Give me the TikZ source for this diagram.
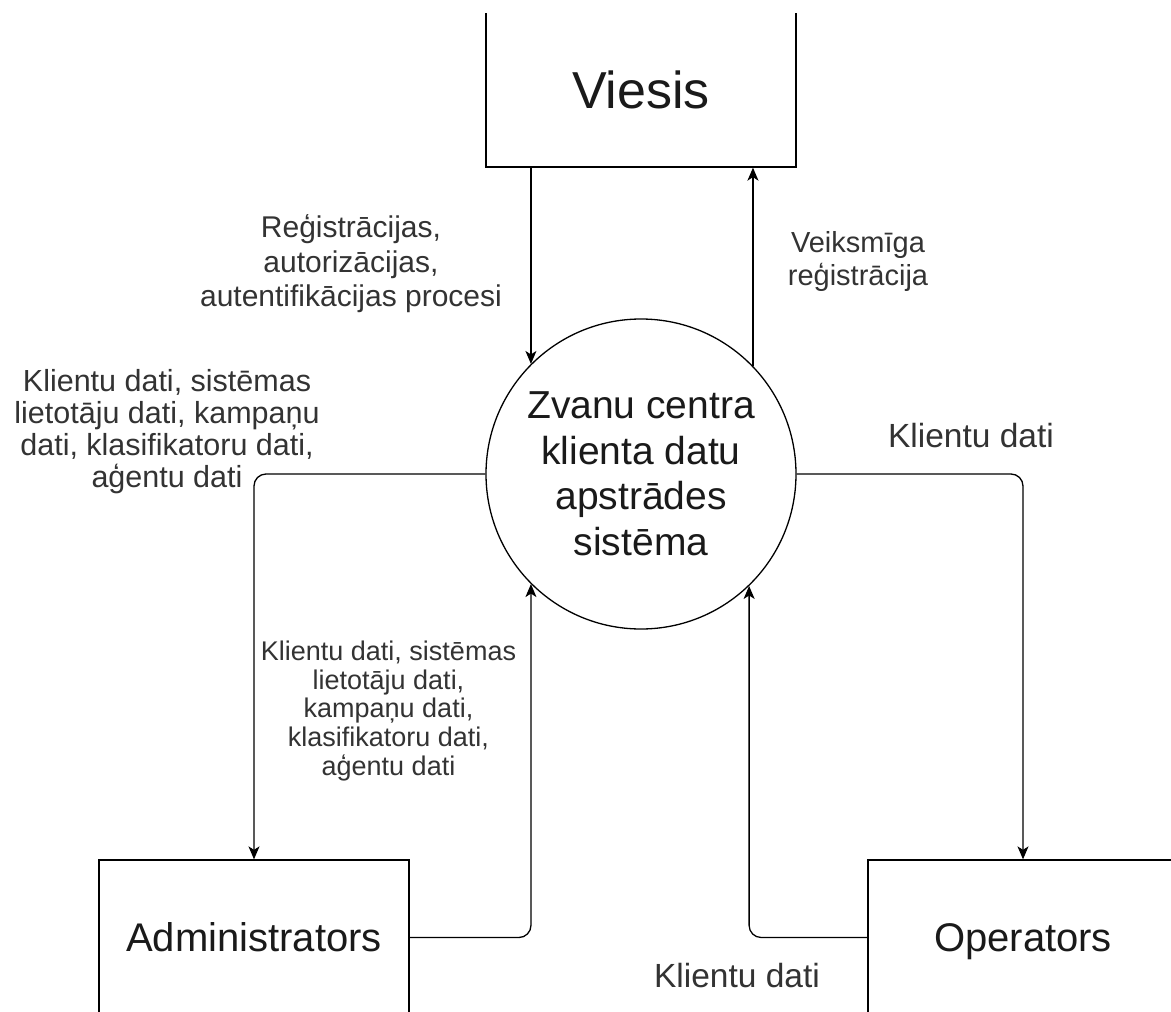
\documentclass[tikz,border=0pt]{standalone}
\usepackage{fontspec}
\setmainfont{Liberation Sans}
\usetikzlibrary{arrows.meta}
\definecolor{nodetext}{RGB}{26,26,26}
\definecolor{labeltext}{RGB}{51,51,51}
\tikzset{
  entity/.style={draw, line width=1.3pt, minimum width=310pt, minimum height=155pt, inner sep=0pt, text=nodetext, text depth=0pt},
  process/.style={draw, circle, line width=1.3pt, minimum size=310pt, inner sep=0pt, align=center, text=nodetext,
    font=\fontsize{39}{45.5}\selectfont},
  flow/.style={line width=1.3pt, rounded corners=12pt, -{Stealth[length=13pt,width=11pt,inset=3.5pt]}},
  lbl/.style={align=center, inner sep=0pt, text=labeltext},
}
\begin{document}
\begin{tikzpicture}[x=1pt,y=-1pt]
\useasboundingbox (0,0) rectangle (1171,1012);
\fill[white] (0,0) rectangle (1171,1012);
\clip (0,13) rectangle (1171,1012);

\node[entity, font=\fontsize{52}{60}\selectfont, text height=37pt] (viesis) at (641,89.5) {Viesis};
\node[process] (sys) at (641,474) {Zvanu centra\\klienta datu\\apstrādes\\sistēma};
\node[entity, font=\fontsize{40}{46}\selectfont, text height=28.6pt] (admin) at (254,937.5) {Administrators};
\node[entity, font=\fontsize{40}{46}\selectfont, text height=28.6pt] (oper) at (1023,937.5) {Operators};

% connectors
\draw[flow] (viesis.south -| sys.135.7) -- (sys.135.7);
\draw[flow] (sys.44.8) -- (viesis.south -| sys.44.8);
\draw[flow] (sys.west) -| (admin.north);
\draw[flow] (admin.east) -| (sys.225.3);
\draw[flow] (sys.east) -| (oper.north);
\draw[flow] (oper.west) -| (sys.314.5);

% labels
\node[lbl, font=\fontsize{30}{34.5}\selectfont] (l1) at (351,264) {Reģistrācijas,\\autorizācijas,\\autentifikācijas procesi};
\node[lbl, font=\fontsize{29}{33}\selectfont] (l2) at (858,261) {Veiksmīga\\reģistrācija};
\node[lbl, font=\fontsize{30.5}{32}\selectfont] (l3) at (167,432) {Klientu dati, sistēmas\\lietotāju dati, kampaņu\\dati, klasifikatoru dati,\\aģentu dati};
\node[lbl, font=\fontsize{27}{28.7}\selectfont] (l4) at (388.5,711) {Klientu dati, sistēmas\\lietotāju dati,\\kampaņu dati,\\klasifikatoru dati,\\aģentu dati};
\node[lbl, font=\fontsize{33.5}{38}\selectfont, anchor=base] (l5) at (971,447) {Klientu dati};
\node[lbl, font=\fontsize{33.5}{38}\selectfont, anchor=base] (l6) at (737,987) {Klientu dati};
\end{tikzpicture}
\end{document}
